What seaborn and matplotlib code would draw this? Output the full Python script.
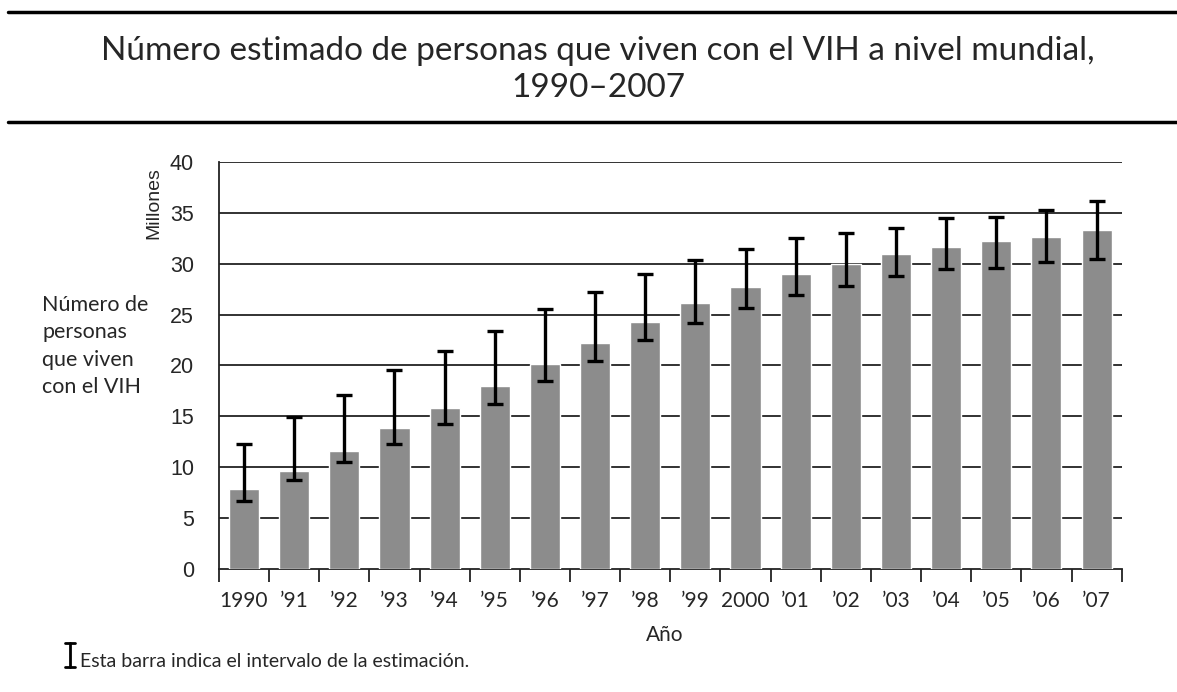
import matplotlib
matplotlib.use("Agg")
import matplotlib.pyplot as plt
import seaborn as sns
import numpy as np
import pandas as pd

# datos (millones)
anios = ["1990", "’91", "’92", "’93", "’94", "’95", "’96", "’97", "’98",
         "’99", "2000", "’01", "’02", "’03", "’04", "’05", "’06", "’07"]
estimado = [7.8, 9.6, 11.6, 13.8, 15.8, 18.0, 20.1, 22.2, 24.3,
            26.1, 27.7, 29.0, 30.0, 30.9, 31.6, 32.2, 32.6, 33.3]
limite_inf = [6.7, 8.7, 10.5, 12.3, 14.2, 16.2, 18.5, 20.4, 22.5,
              24.2, 25.6, 26.9, 27.8, 28.8, 29.5, 29.6, 30.2, 30.5]
limite_sup = [12.3, 14.9, 17.1, 19.5, 21.4, 23.4, 25.5, 27.2, 29.0,
              30.4, 31.4, 32.5, 33.0, 33.5, 34.5, 34.6, 35.3, 36.2]
yticks = [0, 5, 10, 15, 20, 25, 30, 35, 40]

df = pd.DataFrame({"anio": anios, "valor": estimado})

sns.set_style("white")
fuente = "Lato"
fuente_num = "Liberation Sans"

fig = plt.figure(figsize=(11.77, 6.92), dpi=100)
ax = fig.add_axes([0.186, 0.178, 0.767, 0.588])

sns.barplot(data=df, x="anio", y="valor", color="#8c8c8c", width=0.6,
            saturation=1, ax=ax, zorder=3)

x = np.arange(len(anios))
est = np.array(estimado)
err = [est - np.array(limite_inf), np.array(limite_sup) - est]
ax.errorbar(x, est, yerr=err, fmt="none", ecolor="black", elinewidth=2.4,
            capsize=6, capthick=2.4, zorder=4)

ax.set_xlim(-0.5, len(anios) - 0.5)
ax.set_ylim(0, 40)
ax.set_yticks(yticks)
ax.set_yticklabels([str(v) for v in yticks], fontsize=15.5, family=fuente_num)
for v in yticks[1:]:
    ax.axhline(v, color="#222222", linewidth=1.3, zorder=1)

ax.set_xticks(x)
ax.set_xticklabels(anios, fontsize=15, family=fuente)
ax.set_xticks(np.arange(-0.5, len(anios)), minor=True)
ax.tick_params(axis="x", which="major", length=0, pad=16)
ax.tick_params(axis="x", which="minor", length=9, width=1.3, color="#222222",
               direction="out", bottom=True)
ax.tick_params(axis="y", length=0, pad=18)

for s in ["top", "right"]:
    ax.spines[s].set_visible(False)
for s in ["left", "bottom"]:
    ax.spines[s].set_color("#222222")
    ax.spines[s].set_linewidth(1.3)

ax.set_xlabel("")
ax.set_ylabel("")

fig.text(0.565, 0.082, "Año", ha="center", va="center", fontsize=15, family=fuente)
ax.text(-0.072, 0.9, "Millones", transform=ax.transAxes, rotation=90,
        ha="center", va="center", fontsize=14, family=fuente_num)
fig.text(0.036, 0.5, "Número de\npersonas\nque viven\ncon el VIH", ha="left",
         va="center", fontsize=15.5, family=fuente, linespacing=1.45)

# título con líneas horizontales
fig.text(0.508, 0.9, "Número estimado de personas que viven con el VIH a nivel mundial,\n1990–2007",
         ha="center", va="center", fontsize=24, family=fuente, linespacing=1.3)
fig.add_artist(plt.Line2D([0.007, 1.0], [0.982, 0.982], color="black", linewidth=2.5))
fig.add_artist(plt.Line2D([0.007, 1.0], [0.824, 0.824], color="black", linewidth=2.5))

# leyenda del intervalo
fig.add_artist(plt.Line2D([0.0595, 0.0595], [0.036, 0.071], color="black", linewidth=2))
fig.add_artist(plt.Line2D([0.055, 0.064], [0.071, 0.071], color="black", linewidth=2))
fig.add_artist(plt.Line2D([0.055, 0.064], [0.036, 0.036], color="black", linewidth=2))
fig.text(0.068, 0.044, "Esta barra indica el intervalo de la estimación.",
         ha="left", va="center", fontsize=14, family=fuente)

fig.savefig("out.png", dpi=100)
